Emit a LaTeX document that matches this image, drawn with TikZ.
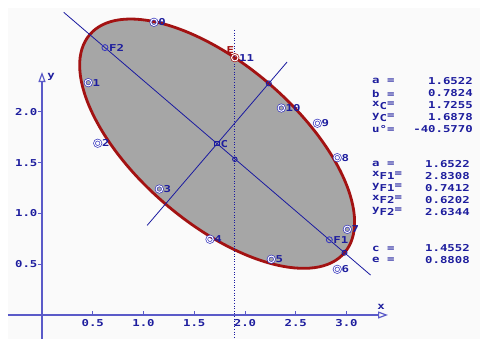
\documentclass[tikz,border=0pt]{standalone}
\usepackage{fontspec}
\newfontfamily\pix{DejaVu Sans Mono}[FakeStretch=1.3]
\usetikzlibrary{arrows.meta,calc}
\definecolor{tb}{HTML}{1E1E9E}
\definecolor{ab}{HTML}{5A5AC8}
\definecolor{lb}{HTML}{1A1AA0}
\definecolor{mk}{HTML}{3A3AC0}
\definecolor{er}{HTML}{A31212}
\definecolor{eg}{HTML}{A6A6A6}
\definecolor{bgc}{HTML}{FAFAFA}
\newcommand\lowsub[1]{\raisebox{-2.5pt}{#1}}
\tikzset{
  dpt/.style={circle, draw=mk, line width=0.7pt, double=white, double distance=1pt, minimum size=6.5pt, inner sep=0pt},
  spt/.style={circle, draw=mk, line width=0.9pt, minimum size=6pt, inner sep=0pt},
  vpt/.style={circle, draw=lb, line width=0.9pt, minimum size=5pt, inner sep=0pt},
  lab/.style={text=tb, inner sep=0.5pt},
  axisline/.style={ab, line width=1.2pt, -{Triangle[open,length=10pt,width=7pt]}},
  tickline/.style={ab, line width=1pt},
  ticklab/.style={text=tb, inner sep=0pt},
  panel/.style={text=tb, inner sep=0pt},
}
\begin{document}
\begin{tikzpicture}[x=101.5pt, y=101.5pt, font=\pix\bfseries\fontsize{9.5pt}{10pt}\selectfont]
\useasboundingbox (-0.41379,-0.23645) rectangle (4.31527,3.10345);
\fill[white] (-0.41379,-0.23645) rectangle (4.31527,3.10345);
\fill[bgc] (-0.335,-0.23645) rectangle (4.31527,3.0246);

% ellipse
\coordinate (C) at (1.7255,1.6878);
\draw[er, line width=2.8pt, fill=eg, rotate around={-40.577:(C)}] (C) ellipse [x radius=1.6522, y radius=0.7824];

% axes
\coordinate (xs) at (-0.335,0); \coordinate (xe) at (3.409,0);
\coordinate (ys) at (0,-0.23645); \coordinate (ye) at (0,2.394);
\draw[axisline] (xs) -- (xe);
\draw[axisline] (ys) -- (ye);
\node[text=tb, inner sep=0pt] (xl) at ([shift={(-7pt,8.5pt)}]xe) {x};
\node[text=tb, inner sep=0pt] (yl) at ([shift={(9pt,-4.5pt)}]ye) {y};
\foreach \t [count=\i] in {0.5,1.0,1.5,2.0,2.5,3.0}{
  \draw[tickline] (\t,0) -- ++(0,4pt);
  \node[ticklab] (xt\i) at (\t,-0.079) {\t};
}
\foreach \t [count=\i] in {0.5,1.0,1.5,2.0}{
  \draw[tickline] (0,\t) ++(-4pt,0) -- ++(5pt,0);
  \node[ticklab, anchor=east] (yt\i) at (-0.043,\t) {\t};
}

% axes of the ellipse
\coordinate (MA) at ($(C)+(139.423:1.99)$);
\coordinate (MB) at ($(C)+(-40.577:1.99)$);
\coordinate (NA) at ($(C)+(229.423:1.06)$);
\coordinate (NB) at ($(C)+(49.423:1.06)$);
\draw[lb, line width=0.8pt] (MA) -- (MB);
\draw[lb, line width=0.8pt] (NA) -- (NB);

% dotted vertical line
\coordinate (DT) at (1.9,2.808);
\coordinate (DB) at (1.9,-0.23645);
\draw[lb, line width=1pt, dash pattern=on 1pt off 1.6pt] (DT) -- (DB);

% vertices and intersection
\node[vpt] (V1) at ($(C)+(-40.577:1.6522)$) {};
\node[vpt] (V2) at ($(C)+(49.423:0.7824)$) {};
\node[vpt, minimum size=4.5pt] (I) at (1.9,1.534) {};

% data points
\foreach \n/\x/\y in {0/1.103/2.884, 1/0.456/2.289, 2/0.549/1.692, 3/1.156/1.241,
  4/1.655/0.746, 5/2.259/0.549, 6/2.909/0.450, 7/3.008/0.844, 8/2.909/1.550,
  9/2.713/1.889, 10/2.358/2.039}{
  \node[dpt, label={[lab]right:\n}] (p\n) at (\x,\y) {};
}
\node[dpt, draw=er, label={[lab]right:11}] (p11) at (1.9,2.535) {};
\node[text=er, inner sep=0pt] (E) at ([shift={(-4.5pt,8pt)}]p11) {E};

% foci and centre
\node[spt, label={[lab]right:F2}] (F2) at (0.6202,2.6344) {};
\node[spt, label={[lab]right:F1}] (F1) at (2.8308,0.7412) {};
\node[rectangle, draw=lb, line width=0.9pt, minimum size=4.5pt, inner sep=0pt, label={[lab]right:C}] (Cm) at (C) {};

% text panel (pixel coordinates)
\begin{scope}[x=1pt, y=-1pt, shift={(-42,-315)}]
  \node[panel, anchor=west] (la1) at (372,81) {a =};
  \node[panel, anchor=west] (la2) at (372,93.5) {b =};
  \node[panel, anchor=west] (la3) at (372,105.5) {x\lowsub{C}=};
  \node[panel, anchor=west] (la4) at (372,117.5) {y\lowsub{C}=};
  \node[panel, anchor=west] (la5) at (372,129.5) {u°=};
  \node[panel, anchor=east] (va1) at (473,81) {1.6522};
  \node[panel, anchor=east] (va2) at (473,93.5) {0.7824};
  \node[panel, anchor=east] (va3) at (473,105.5) {1.7255};
  \node[panel, anchor=east] (va4) at (473,117.5) {1.6878};
  \node[panel, anchor=east] (va5) at (473,129.5) {-40.5770};

  \node[panel, anchor=west] (lb1) at (372,164) {a =};
  \node[panel, anchor=west] (lb2) at (372,175.5) {x\lowsub{F1}=};
  \node[panel, anchor=west] (lb3) at (372,187.5) {y\lowsub{F1}=};
  \node[panel, anchor=west] (lb4) at (372,199.5) {x\lowsub{F2}=};
  \node[panel, anchor=west] (lb5) at (372,211.5) {y\lowsub{F2}=};
  \node[panel, anchor=east] (vb1) at (470,164) {1.6522};
  \node[panel, anchor=east] (vb2) at (470,176) {2.8308};
  \node[panel, anchor=east] (vb3) at (470,188) {0.7412};
  \node[panel, anchor=east] (vb4) at (470,200.5) {0.6202};
  \node[panel, anchor=east] (vb5) at (470,212.5) {2.6344};

  \node[panel, anchor=west] (lc1) at (372,248.5) {c =};
  \node[panel, anchor=west] (lc2) at (372,260) {e =};
  \node[panel, anchor=east] (vc1) at (470,248.5) {1.4552};
  \node[panel, anchor=east] (vc2) at (470,260) {0.8808};
\end{scope}
\end{tikzpicture}
\end{document}
